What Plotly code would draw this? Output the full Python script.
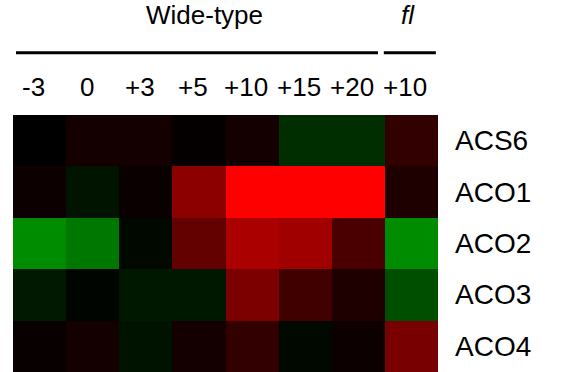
import plotly.graph_objects as go

columns = ["-3", "0", "+3", "+5", "+10", "+15", "+20", "+10"]
genes = ["ACS6", "ACO1", "ACO2", "ACO3", "ACO4"]
group_labels = ["Wide-type", "<i>fl</i>"]

# signed expression values: positive = red, negative = green
values = [
    [0.00, 0.08, 0.08, 0.02, 0.08, -0.18, -0.18, 0.20],
    [0.05, -0.08, 0.04, 0.55, 1.00, 1.00, 1.00, 0.12],
    [-0.55, -0.47, -0.03, 0.39, 0.67, 0.63, 0.29, -0.55],
    [-0.10, -0.02, -0.09, -0.09, 0.49, 0.25, 0.12, -0.31],
    [0.03, 0.08, -0.07, 0.08, 0.20, -0.03, 0.05, 0.47],
]

font_family = "Liberation Sans, Arial, sans-serif"

fig = go.Figure(
    go.Heatmap(
        z=values,
        x=list(range(len(columns))),
        y=list(range(len(genes))),
        zmin=-1, zmax=1,
        colorscale=[[0, "rgb(0,255,0)"], [0.5, "rgb(0,0,0)"], [1, "rgb(255,0,0)"]],
        showscale=False,
        xgap=0, ygap=0,
        hoverinfo="skip",
    )
)

annotations = []
for i, c in enumerate(columns):
    annotations.append(dict(x=i, y=1.109, xref="x", yref="paper", text=c,
                            showarrow=False, xanchor="center", yanchor="middle",
                            xshift=-6, font=dict(size=26, color="black", family=font_family)))
for j, g in enumerate(genes):
    annotations.append(dict(x=1.035, y=j, xref="paper", yref="y", text=g,
                            showarrow=False, xanchor="left", yanchor="middle",
                            font=dict(size=28, color="black", family=font_family)))
annotations.append(dict(x=3.1, y=1.39, xref="x", yref="paper", text=group_labels[0],
                        showarrow=False, xanchor="center", yanchor="middle",
                        font=dict(size=26, color="black", family=font_family)))
annotations.append(dict(x=6.93, y=1.39, xref="x", yref="paper", text=group_labels[1],
                        showarrow=False, xanchor="center", yanchor="middle",
                        font=dict(size=26, color="black", family=font_family)))

shapes = [
    dict(type="line", xref="x", yref="paper", x0=-0.444, x1=6.37, y0=1.2424, y1=1.2424,
         line=dict(color="black", width=3)),
    dict(type="line", xref="x", yref="paper", x0=6.48, x1=7.46, y0=1.2424, y1=1.2424,
         line=dict(color="black", width=3)),
]

fig.update_layout(
    width=571, height=372,
    margin=dict(l=13, r=133, t=115, b=0),
    paper_bgcolor="white", plot_bgcolor="white",
    xaxis=dict(range=[-0.5, 7.5], showticklabels=False, showgrid=False, zeroline=False, ticks=""),
    yaxis=dict(range=[4.5, -0.5], showticklabels=False, showgrid=False, zeroline=False, ticks=""),
    annotations=annotations,
    shapes=shapes,
)

fig.write_html("out.html", config={"displayModeBar": False},
               post_script="document.body.style.margin='0';")
